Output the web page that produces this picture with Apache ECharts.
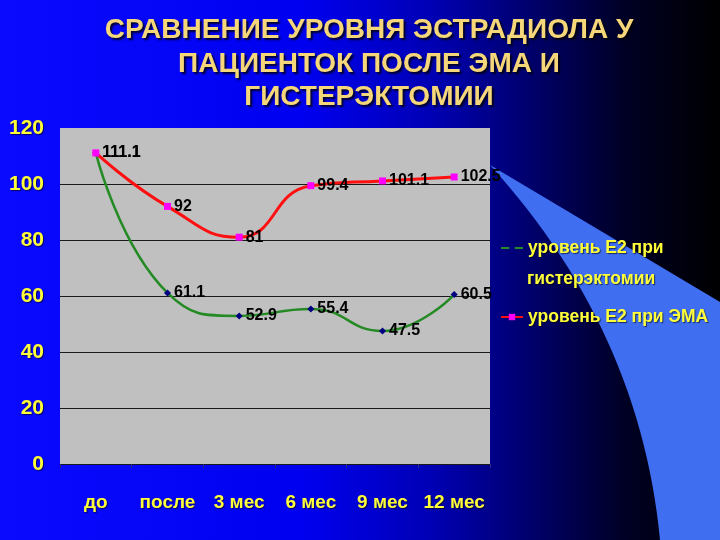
<!DOCTYPE html>
<html>
<head>
<meta charset="utf-8">
<script src="https://cdn.jsdelivr.net/npm/echarts@6/dist/echarts.min.js"></script>
<style>
html,body{margin:0;padding:0;background:#000;}
#chart{width:720px;height:540px;}
</style>
</head>
<body>
<div id="chart"></div>
<script>
var titleText = 'СРАВНЕНИЕ УРОВНЯ ЭСТРАДИОЛА У\nПАЦИЕНТОК ПОСЛЕ ЭМА И\nГИСТЕРЭКТОМИИ';
var categories = ['до', 'после', '3 мес', '6 мес', '9 мес', '12 мес'];
var seriesHystName = 'уровень Е2 при гистерэктомии';
var seriesEmaName = 'уровень Е2 при ЭМА';
var hystValues = [111.1, 61.1, 52.9, 55.4, 47.5, 60.5];
var emaValues = [111.1, 92, 81, 99.4, 101.1, 102.5];
var yMin = 0, yMax = 120, yStep = 20;

var FONT = "'Liberation Sans', Arial, sans-serif";
var YELLOW = '#ffff3a';

// decorative light-blue swoosh on the right side of the slide
function swooshPoints() {
  var pts = [[490, 165], [720, 302], [720, 540], [660, 540]];
  var p0 = [660, 540], c = [640, 330], p1 = [490, 165];
  for (var i = 1; i < 30; i++) {
    var t = i / 30, u = 1 - t;
    pts.push([u * u * p0[0] + 2 * u * t * c[0] + t * t * p1[0],
              u * u * p0[1] + 2 * u * t * c[1] + t * t * p1[1]]);
  }
  return pts;
}

var shadowText = {textShadowColor: 'rgba(0,0,0,0.6)', textShadowOffsetX: 1, textShadowOffsetY: 1, textShadowBlur: 1};
function yellowText(size) {
  return Object.assign({color: YELLOW, fontFamily: FONT, fontWeight: 'bold', fontSize: size}, shadowText);
}

var chart = echarts.init(document.getElementById('chart'), null, {renderer: 'canvas'});
chart.setOption({
  backgroundColor: new echarts.graphic.LinearGradient(0, 0, 1, 0, [
    {offset: 0, color: '#0a0aff'},
    {offset: 0.42, color: '#0000f0'},
    {offset: 0.6, color: '#0000b4'},
    {offset: 0.74, color: '#00006a'},
    {offset: 0.87, color: '#000024'},
    {offset: 1, color: '#000000'}
  ]),
  animation: false,
  graphic: [
    {
      type: 'polygon',
      z: -10,
      silent: true,
      shape: {points: swooshPoints()},
      style: {fill: '#3f6ff0'}
    },
    {
      type: 'text',
      left: 527,
      top: 270,
      style: Object.assign({
        text: 'гистерэктомии',
        fill: YELLOW,
        font: 'bold 17.5px ' + FONT
      }, shadowText)
    }
  ],
  title: {
    text: titleText,
    left: 364,
    top: 9,
    textAlign: 'center',
    textStyle: {
      color: '#f5d77a',
      fontFamily: FONT,
      fontWeight: 'bold',
      fontSize: 28,
      lineHeight: 33.5,
      textShadowColor: 'rgba(0,0,0,0.8)',
      textShadowOffsetX: 2,
      textShadowOffsetY: 2,
      textShadowBlur: 2
    }
  },
  legend: [
    {
      data: [seriesHystName],
      orient: 'vertical',
      left: 500,
      top: 237,
      padding: 0,
      itemWidth: 22,
      itemHeight: 8,
      formatter: function () { return 'уровень Е2 при'; },
      textStyle: Object.assign(yellowText(17.5), {lineHeight: 22})
    },
    {
      data: [seriesEmaName],
      orient: 'vertical',
      left: 500,
      top: 306,
      padding: 0,
      itemWidth: 22,
      itemHeight: 8,
      textStyle: Object.assign(yellowText(17.5), {lineHeight: 22})
    }
  ],
  grid: {
    left: 60, top: 128, width: 430, height: 336,
    show: true,
    backgroundColor: '#c0c0c0',
    borderWidth: 0
  },
  xAxis: {
    type: 'category',
    data: categories,
    boundaryGap: true,
    axisLine: {show: true, lineStyle: {color: '#1a1a1a', width: 1}},
    axisTick: {show: true, length: 4, lineStyle: {color: '#2a2a80'}},
    axisLabel: Object.assign(yellowText(19), {margin: 29, interval: 0})
  },
  yAxis: {
    type: 'value',
    min: yMin, max: yMax, interval: yStep,
    axisLine: {show: false},
    axisTick: {show: false},
    splitLine: {show: true, showMaxLine: false, lineStyle: {color: '#1a1a1a', width: 1}},
    axisLabel: Object.assign(yellowText(21), {margin: 16})
  },
  series: [
    {
      name: seriesHystName,
      type: 'line',
      data: hystValues,
      smooth: 0.5,
      symbol: 'diamond',
      symbolSize: 7,
      itemStyle: {color: '#000080'},
      lineStyle: {color: '#248a24', width: 2.5},
      label: {show: true, position: 'right', distance: 3, color: '#000', fontFamily: FONT, fontWeight: 'bold', fontSize: 16},
      z: 2
    },
    {
      name: seriesEmaName,
      type: 'line',
      data: emaValues,
      smooth: 0.5,
      symbol: 'rect',
      symbolSize: 7,
      itemStyle: {color: '#ff00ff'},
      lineStyle: {color: '#ff1010', width: 3},
      label: {show: true, position: 'right', distance: 3, color: '#000', fontFamily: FONT, fontWeight: 'bold', fontSize: 16},
      z: 3
    }
  ]
});
</script>
</body>
</html>
